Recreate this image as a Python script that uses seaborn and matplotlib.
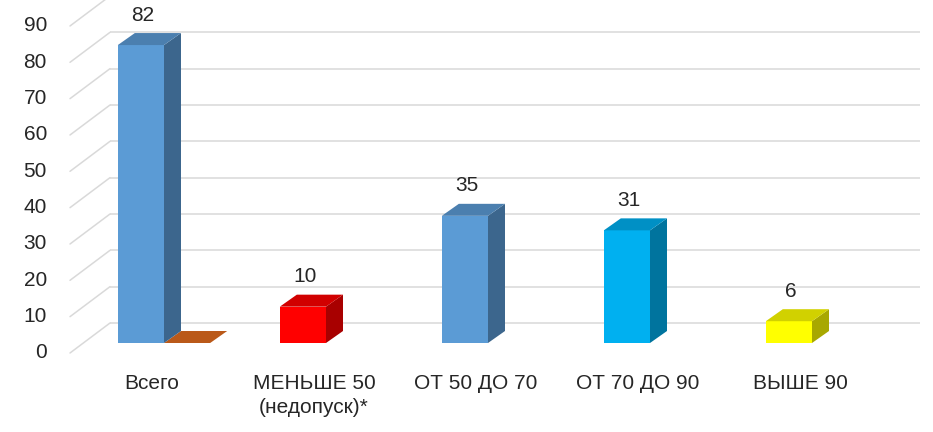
import numpy as np
import pandas as pd
import seaborn as sns
import matplotlib.pyplot as plt
from matplotlib.patches import Polygon
from matplotlib import transforms
from matplotlib.colors import to_rgb

# data
categories = ['Всего', 'МЕНЬШЕ 50\n(недопуск)*', 'ОТ 50 ДО 70', 'ОТ 70 ДО 90', 'ВЫШЕ 90']
main_values = [82, 10, 35, 31, 6]
main_colors = ['#5B9BD5', '#FF0000', '#5B9BD5', '#00B0F0', '#FFFF00']
extra_categories = ['Всего']
extra_values = [0]
extra_color = '#E36C1F'
y_ticks = [0, 10, 20, 30, 40, 50, 60, 70, 80, 90]

df = pd.DataFrame({
    'cat': categories + extra_categories,
    'series': ['main'] * len(categories) + ['extra'] * len(extra_categories),
    'value': main_values + extra_values,
})

sns.set_theme(style='white')
plt.rcParams['font.family'] = ['Liberation Sans', 'DejaVu Sans']

DPI = 100
fig = plt.figure(figsize=(9.33, 4.32), dpi=DPI)
ax = fig.add_axes([83 / 933, 89 / 432, 810 / 933, 343 / 432])

sns.barplot(data=df, x='cat', y='value', hue='series', order=categories,
            hue_order=['main', 'extra'], dodge=True, width=0.57, errorbar=None,
            saturation=1, legend=False, ax=ax)
ax.set_xlim(-0.5, 4.5)
ax.set_ylim(0, 94.4)
ax.axis('off')

# pseudo-3D depth in screen pixels
DX, DY = 17, 12
TOP_SHADE, SIDE_SHADE = 0.82, 0.66
grid_col = '#D9D9D9'
text_col = '#262626'


def px(x, y, dx=0, dy=0):
    """move a data point by dx, dy screen pixels"""
    sx, sy = ax.transData.transform((x, y))
    return ax.transData.inverted().transform((sx + dx, sy + dy))


def offset(dx, dy, base=None):
    base = ax.transData if base is None else base
    return base + transforms.ScaledTranslation(dx / DPI, dy / DPI, fig.dpi_scale_trans)


# back wall gridlines and floor diagonals
ax.hlines(y_ticks, -0.5, 4.5, colors=grid_col, lw=1.1, zorder=0.5,
          transform=offset(27, 20), clip_on=False)
for v in y_ticks:
    p0 = px(-0.5, v, -13, -10)
    p1 = px(-0.5, v, 27, 20)
    ax.plot([p0[0], p1[0]], [p0[1], p1[1]], color=grid_col, lw=1.1,
            zorder=0.5, clip_on=False)
    ax.text(-0.5, v, str(v), transform=offset(-36, -10), ha='right', va='center',
            fontsize=15, color=text_col)


def add_3d(patch, color, z):
    x0, w, h = patch.get_x(), patch.get_width(), patch.get_height()
    rgb = np.array(to_rgb(color))
    patch.set_facecolor(color)
    patch.set_edgecolor('none')
    patch.set_zorder(z)
    top = [(x0, h), (x0 + w, h), px(x0 + w, h, DX, DY), px(x0, h, DX, DY)]
    side = [(x0 + w, 0), (x0 + w, h), px(x0 + w, h, DX, DY), px(x0 + w, 0, DX, DY)]
    ax.add_patch(Polygon(side, closed=True, fc=rgb * SIDE_SHADE, ec='none',
                         zorder=z, clip_on=False))
    ax.add_patch(Polygon(top, closed=True, fc=rgb * TOP_SHADE, ec='none',
                         zorder=z, clip_on=False))


main_bars, extra_bars = ax.containers[0], ax.containers[1]
for bar in extra_bars:
    add_3d(bar, extra_color, 1)
for bar, col, val in zip(main_bars, main_colors, main_values):
    add_3d(bar, col, 2)
    cx = bar.get_x() + bar.get_width() / 2
    ax.text(cx, val, str(val), transform=offset(2, 30), ha='center', va='center',
            fontsize=15, color=text_col)

label_tr = offset(-12, -31, transforms.blended_transform_factory(ax.transData, ax.transAxes))
for i, cat in enumerate(categories):
    ax.text(i, 0, cat, transform=label_tr, ha='center', va='top', fontsize=15,
            color=text_col, linespacing=1.35)

fig.savefig('out.png', dpi=DPI)
